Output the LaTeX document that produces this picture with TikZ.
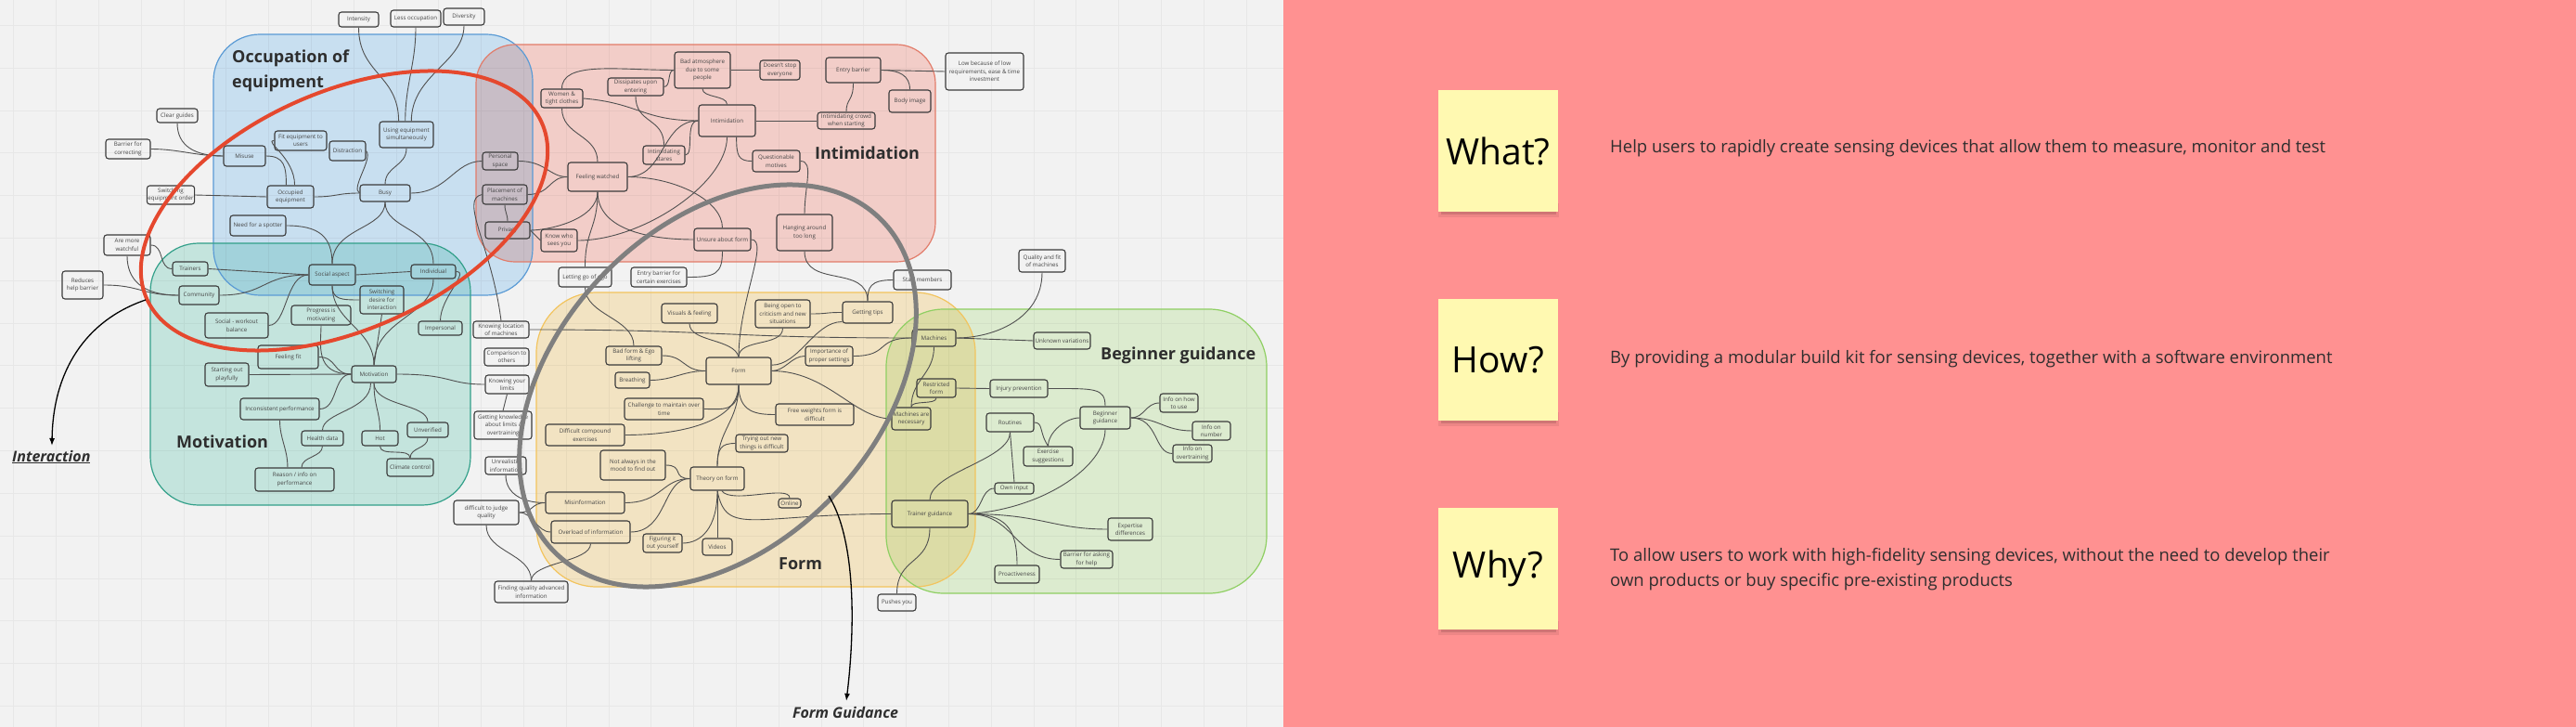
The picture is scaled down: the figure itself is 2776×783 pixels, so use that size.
\documentclass[tikz,border=0pt]{standalone}
\usepackage{fontspec}
\setmainfont{Open Sans}
\usetikzlibrary{arrows.meta}
\definecolor{bgc}{HTML}{F2F2F2}
\definecolor{gridc}{HTML}{E7E7E7}
\definecolor{pinkc}{HTML}{FF9191}
\definecolor{blueF}{RGB}{211,235,253}
\definecolor{redF}{RGB}{255,217,211}
\definecolor{tealF}{RGB}{207,241,233}
\definecolor{yelF}{RGB}{255,240,205}
\definecolor{grnF}{RGB}{232,248,219}
\definecolor{blueB}{HTML}{5B9BD5}
\definecolor{redB}{HTML}{E27C6A}
\definecolor{tealB}{HTML}{33A08A}
\definecolor{yelB}{HTML}{F2C45E}
\definecolor{grnB}{HTML}{8FCF63}
\definecolor{nodeB}{HTML}{3B3B3B}
\definecolor{nodeT}{HTML}{454545}
\definecolor{connC}{HTML}{505050}
\definecolor{redE}{HTML}{E5482E}
\definecolor{greyE}{HTML}{7F7F7F}
\definecolor{stickyc}{HTML}{FFF9B1}
\definecolor{txtc}{HTML}{2E2E2E}
\tikzset{
  nbox/.style={draw=nodeB, line width=1.1pt, rounded corners=3pt, inner sep=1pt, align=center, text=nodeT, font=\fontsize{6.2}{8.4}\selectfont},
  conn/.style={draw=connC, line width=0.9pt},
  ttl/.style={inner sep=0pt, font=\fontsize{18}{22}\selectfont\bfseries, text=txtc},
  region/.style={line width=1.2pt},
  arr/.style={draw=black, line width=1.3pt, -{Latex[length=8pt,width=6pt]}},
  sticky/.style={fill=stickyc, minimum width=129pt, minimum height=131pt, inner sep=0pt, font=\fontsize{39}{44}\selectfont, text=black},
  desc/.style={inner sep=0pt, font=\fontsize{18.5}{27}\selectfont, text=txtc, align=left},
  redell/.style={draw=redE, line width=4pt},
  greyell/.style={draw=greyE, line width=5pt},
}
\newcommand\mnd[6]{\node[nbox,minimum width=#4pt,minimum height=#5pt] (#1) at (#2,#3) {#6};}
\newcommand\mce[4]{\draw[conn] (#1) .. controls +(#3) and +(#4) .. (#2);}
\begin{document}
\begin{tikzpicture}[x=1pt,y=-1pt]
\useasboundingbox (0,0) rectangle (2776,783);
\fill[bgc] (0,0) rectangle (1383,783);
\fill[pinkc] (1383,0) rectangle (2776,783);
\foreach \i in {0,...,29} \draw[gridc,line width=0.6pt] ({14.6+45.8*\i},0) -- ({14.6+45.8*\i},783);
\foreach \j in {0,...,16} \draw[gridc,line width=0.6pt] (0,{27.4+45.8*\j}) -- (1383,{27.4+45.8*\j});

% regions
\begin{scope}[blend mode=multiply]
\fill[blueF, rounded corners=50pt] (230,37) rectangle (574,318);
\fill[redF, rounded corners=42pt] (513,48) rectangle (1008,282);
\fill[tealF, rounded corners=52pt] (162,262) rectangle (507,544);
\fill[yelF, rounded corners=65pt] (578,315) rectangle (1051,632);
\fill[grnF, rounded corners=62pt] (955,333) rectangle (1365,639);
\end{scope}
\draw[blueB, region, rounded corners=50pt] (230,37) rectangle (574,318);
\draw[redB, region, rounded corners=42pt] (513,48) rectangle (1008,282);
\draw[tealB, region, rounded corners=52pt] (162,262) rectangle (507,544);
\draw[yelB, region, rounded corners=65pt] (578,315) rectangle (1051,632);
\draw[grnB, region, rounded corners=62pt] (955,333) rectangle (1365,639);

% titles
\node[ttl,anchor=base west] (t1a) at (250,68) {Occupation of};
\node[ttl,anchor=base west] (t1b) at (250,95) {equipment};
\node[ttl,anchor=base west] (t2) at (878,172) {Intimidation};
\node[ttl,anchor=base west] (t3) at (190,482) {Motivation};
\node[ttl,anchor=base west] (t4) at (839,613) {Form};
\node[ttl,anchor=base west] (t5) at (1186,388) {Beginner guidance};

% nodes: occupation
\mnd{intensity}{386.5}{21}{43}{16}{Intensity}
\mnd{lessocc}{448}{20}{54}{18}{Less occupation}
\mnd{diversity}{500}{18}{44}{18}{Diversity}
\mnd{clearguides}{191}{124.5}{44}{15}{Clear guides}
\mnd{barrier}{138}{160.5}{48}{21}{Barrier for\\correcting}
\mnd{misuse}{263.5}{168}{45}{22}{Misuse}
\mnd{fitequip}{324}{151.5}{56}{21}{Fit equipment to\\users}
\mnd{distraction}{374.5}{162.5}{39}{21}{Distraction}
\mnd{occupied}{313}{212}{50}{24}{Occupied\\equipment}
\mnd{switching}{184}{210}{44}{20}{Switching\\equipment order}
\mnd{usingequip}{438}{145}{58}{28}{Using equipment\\simultaneously}
\mnd{busy}{415}{208}{54}{18}{Busy}
\mnd{personal}{539}{173.5}{38}{19}{Personal\\space}
\mnd{placement}{544}{209.5}{48}{21}{Placement of\\machines}
\mnd{privacy}{547}{248}{48}{18}{Privacy}
\mnd{needspotter}{278}{243}{60}{22}{Need for a spotter}
% motivation
\mnd{socialaspect}{358}{296}{50}{22}{Social aspect}
\mnd{individual}{467}{292.5}{48}{15}{Individual}
\mnd{switchdesire}{411.5}{323}{47}{30}{Switching\\desire for\\interaction}
\mnd{impersonal}{474.5}{353.5}{47}{15}{Impersonal}
\mnd{watchful}{137}{264}{50}{22}{Are more\\watchful}
\mnd{reduces}{89}{307}{44}{30}{Reduces\\help barrier}
\mnd{trainers}{205}{289.5}{38}{15}{Trainers}
\mnd{community}{214.5}{318}{43}{20}{Community}
\mnd{socialbal}{255}{350.5}{68}{27}{Social - workout\\balance}
\mnd{progress}{346}{339.5}{64}{21}{Progress is\\motivating}
\mnd{feelingfit}{310.5}{384.5}{65}{25}{Feeling fit}
\mnd{starting}{244.5}{403.5}{47}{25}{Starting out\\playfully}
\mnd{motivation}{403}{403}{48}{18}{Motivation}
\mnd{inconsistent}{301.5}{440.5}{85}{23}{Inconsistent performance}
\mnd{healthdata}{347.5}{472}{45}{16}{Health data}
\mnd{hot}{409.5}{472}{39}{16}{Hot}
\mnd{unverified}{461}{463}{44}{16}{Unverified}
\mnd{climate}{442}{503.5}{50}{19}{Climate control}
\mnd{reason}{317.5}{516.5}{85}{25}{Reason / info on\\performance}
\mnd{knowloc}{540}{355}{60}{18}{Knowing location\\of machines}
\mnd{comparison}{546}{384.5}{48}{19}{Comparison to\\others}
\mnd{knowlimits}{546.5}{414}{47}{20}{Knowing your\\limits}
\mnd{gettingknow}{542}{458}{62}{30}{Getting knowledge\\about limits /\\overtraining}
\mnd{unrealistic}{545}{501.5}{44}{19}{Unrealistic\\information}
\mnd{difficultjudge}{524}{552}{70}{26}{difficult to judge\\quality}
\mnd{finding}{572.5}{637.5}{79}{23}{Finding quality advanced\\information}
% intimidation
\mnd{women}{605.5}{106}{45}{20}{Women \&\\tight clothes}
\mnd{dissipates}{685}{93.5}{60}{19}{Dissipates upon\\entering}
\mnd{feelingwatched}{644}{190.5}{64}{31}{Feeling watched}
\mnd{intimstares}{715.5}{167}{45}{20}{Intimidating\\stares}
\mnd{badatmos}{757}{75.5}{60}{39}{Bad atmosphere\\due to some\\people}
\mnd{doesntstop}{840.5}{75.5}{43}{21}{Doesn't stop\\everyone}
\mnd{entrybarrier}{919.5}{75.5}{59}{27}{Entry barrier}
\mnd{lowbecause}{1061}{77}{84}{40}{Low because of low\\requirements, ease \& time\\investment}
\mnd{bodyimage}{980.5}{109}{45}{24}{Body image}
\mnd{intimidation}{783.5}{130}{61}{34}{Intimidation}
\mnd{intimcrowd}{912}{130}{62}{18}{Intimidating crowd\\when starting}
\mnd{questionable}{836.5}{173.5}{51}{23}{Questionable\\motives}
\mnd{hanging}{867}{250.5}{60}{39}{Hanging around\\too long}
\mnd{unsure}{778.5}{258}{61}{24}{Unsure about form}
\mnd{knowwho}{602.5}{259}{39}{24}{Know who\\sees you}
\mnd{lettinggo}{630.5}{298.5}{57}{21}{Letting go of ego}
\mnd{entryexer}{710}{298.5}{60}{21}{Entry barrier for\\certain exercises}
\mnd{staff}{994}{301.5}{62}{21}{Staff members}
% form
\mnd{visuals}{743}{337.5}{60}{21}{Visuals \& feeling}
\mnd{beingopen}{843.5}{338}{59}{30}{Being open to\\criticism and new\\situations}
\mnd{gettingtips}{935}{336.5}{54}{23}{Getting tips}
\mnd{machines}{1006.5}{364}{47}{18}{Machines}
\mnd{importance}{893.5}{383.5}{51}{21}{Importance of\\proper settings}
\mnd{form}{796}{399.5}{70}{29}{Form}
\mnd{badform}{683}{383}{60}{20}{Bad form \& Ego\\lifting}
\mnd{breathing}{681.5}{409.5}{37}{17}{Breathing}
\mnd{challenge}{715.5}{440.5}{85}{23}{Challenge to maintain over\\time}
\mnd{difficultcomp}{630.5}{468.5}{85}{23}{Difficult compound\\exercises}
\mnd{restricted}{1009}{418}{42}{20}{Restricted\\form}
\mnd{freeweights}{878}{446.5}{84}{23}{Free weights form is\\difficult}
\mnd{machinesnec}{982}{451}{42}{24}{Machines are\\necessary}
\mnd{notalways}{682}{501}{70}{32}{Not always in the\\mood to find out}
\mnd{trying}{821}{477.5}{56}{19}{Trying out new\\things is difficult}
\mnd{theory}{773}{515.5}{58}{25}{Theory on form}
\mnd{online}{851}{542}{24}{10}{Online}
\mnd{misinfo}{630.5}{541.5}{85}{23}{Misinformation}
\mnd{overload}{636.5}{573}{85}{24}{Overload of information}
\mnd{figuring}{714}{585}{42}{20}{Figuring it\\out yourself}
\mnd{videos}{773}{589}{32}{18}{Videos}
\mnd{trainerg}{1002}{553.5}{82}{29}{Trainer guidance}
\mnd{pushes}{966.5}{649}{41}{18}{Pushes you}
% beginner
\mnd{quality}{1123}{281}{50}{24}{Quality and fit\\of machines}
\mnd{unknown}{1144.5}{367}{61}{18}{Unknown variations}
\mnd{injury}{1098}{418.5}{62}{19}{Injury prevention}
\mnd{beginnerg}{1191}{450}{54}{24}{Beginner\\guidance}
\mnd{infohow}{1270.5}{434}{41}{20}{Info on how\\to use}
\mnd{routines}{1088.5}{455}{51}{20}{Routines}
\mnd{infonum}{1305.5}{464}{41}{20}{Info on\\number}
\mnd{exercise}{1129.5}{491.5}{53}{21}{Exercise\\suggestions}
\mnd{owninput}{1093}{526}{42}{12}{Own input}
\mnd{infoover}{1285}{488.5}{42}{19}{Info on\\overtraining}
\mnd{expertise}{1218}{570}{48}{24}{Expertise\\differences}
\mnd{barrierask}{1171}{602.5}{56}{19}{Barrier for asking\\for help}
\mnd{proactive}{1096}{618.5}{48}{19}{Proactiveness}

% connectors: occupation
\mce{intensity.south}{usingequip.120}{0,50}{0,-50}
\mce{lessocc.south}{usingequip.95}{0,40}{0,-40}
\mce{diversity.south}{usingequip.70}{0,40}{0,-50}
\mce{usingequip.south}{busy.north}{0,20}{0,-20}
\mce{clearguides.south}{misuse.west}{0,25}{-30,0}
\mce{barrier.east}{misuse.west}{30,0}{-30,0}
\mce{misuse.east}{occupied.110}{20,0}{0,-20}
\mce{fitequip.west}{occupied.70}{-12,0}{0,-30}
\draw[conn] (occupied.west) -- (switching.east);
\mce{occupied.east}{busy.west}{25,0}{-25,0}
\mce{distraction.east}{busy.west}{8,8}{-10,-5}
\mce{busy.east}{personal.west}{40,0}{-30,0}
\mce{busy.south}{individual.north}{0,30}{0,-40}
\mce{busy.south}{socialaspect.north}{0,30}{0,-40}
\mce{needspotter.east}{socialaspect.north}{35,0}{0,-30}
\mce{placement.west}{knowloc.north}{-25,5}{-10,-80}
\mce{placement.south}{privacy.north}{0,8}{0,-8}
\mce{personal.east}{feelingwatched.west}{30,0}{-20,0}
\mce{placement.east}{feelingwatched.west}{25,0}{-20,0}
\mce{privacy.east}{feelingwatched.south}{20,0}{0,30}
\draw[conn] (knowwho.west) -- (privacy.east);
\mce{women.south}{feelingwatched.north}{0,30}{0,-30}
\mce{women.north}{badatmos.west}{0,-30}{-60,0}
\mce{women.east}{intimidation.west}{60,5}{-60,0}
\mce{dissipates.east}{badatmos.west}{8,0}{-8,0}
\mce{dissipates.south}{intimstares.north}{0,30}{0,-30}
\mce{feelingwatched.east}{intimidation.west}{40,0}{-40,0}
\mce{intimstares.east}{intimidation.west}{10,0}{-15,0}
\mce{feelingwatched.south}{lettinggo.north}{0,40}{0,-40}
\mce{feelingwatched.east}{unsure.north}{50,0}{0,-30}
\mce{feelingwatched.south}{unsure.west}{0,40}{-50,0}
\mce{intimidation.south}{knowwho.east}{0,50}{70,0}
% intimidation
\draw[conn] (badatmos.east) -- (doesntstop.west);
\mce{badatmos.south}{intimidation.north}{0,10}{0,-10}
\draw[conn] (intimidation.east) -- (intimcrowd.west);
\mce{entrybarrier.south}{intimcrowd.north}{0,20}{0,-15}
\draw[conn] (entrybarrier.east) -- (lowbecause.west);
\mce{entrybarrier.east}{bodyimage.north}{20,0}{0,-15}
\mce{intimidation.300}{questionable.west}{0,20}{-15,0}
\mce{questionable.east}{hanging.north}{15,0}{0,-30}
% form
\mce{unsure.east}{form.north}{20,0}{0,-60}
\mce{unsure.south}{entryexer.east}{0,25}{30,0}
\mce{hanging.south}{gettingtips.north}{0,40}{0,-40}
\mce{staff.west}{gettingtips.north}{-25,0}{0,-15}
\mce{beingopen.east}{gettingtips.west}{20,0}{-20,0}
\mce{beingopen.south}{form.north}{0,20}{0,-20}
\mce{visuals.south}{form.north}{0,20}{-5,-20}
\mce{knowloc.east}{machines.west}{200,0}{-200,0}
\mce{gettingtips.200}{form.10}{-30,0}{30,0}
\mce{importance.west}{form.east}{-15,0}{15,0}
\mce{importance.east}{machines.west}{40,0}{-40,0}
\mce{form.east}{machinesnec.west}{60,0}{-40,0}
\mce{machines.south}{machinesnec.north}{0,30}{0,-30}
\mce{restricted.south}{machinesnec.north}{0,8}{0,-8}
\draw[conn] (restricted.east) -- (injury.west);
\mce{form.south}{freeweights.west}{0,30}{-20,0}
\mce{form.south}{theory.north}{0,40}{0,-40}
\mce{badform.east}{form.west}{25,0}{-25,0}
\mce{breathing.east}{form.west}{25,0}{-25,0}
\mce{challenge.east}{form.south}{20,0}{0,30}
\mce{difficultcomp.east}{form.south}{60,0}{0,40}
\mce{lettinggo.south}{badform.north}{0,30}{0,-30}
\mce{theory.north}{trying.west}{0,-20}{-15,0}
\mce{theory.290}{online.north}{10,15}{0,-15}
\draw[conn] (theory.south) -- (videos.north);
\mce{theory.south}{trainerg.west}{10,50}{-150,0}
\mce{theory.south}{figuring.east}{0,40}{20,0}
\mce{notalways.east}{theory.west}{20,0}{-20,0}
\mce{misinfo.east}{theory.west}{40,0}{-30,0}
\mce{overload.east}{theory.west}{40,0}{-30,0}
\mce{unrealistic.south}{misinfo.west}{0,20}{-25,0}
\mce{difficultjudge.east}{misinfo.west}{15,0}{-15,0}
\mce{difficultjudge.east}{overload.west}{15,0}{-15,0}
\mce{difficultjudge.south}{finding.north}{0,30}{0,-30}
\mce{overload.south}{finding.north}{0,20}{0,-20}
\mce{trainerg.south}{pushes.north}{0,40}{0,-40}
% beginner
\mce{trainerg.north}{routines.south}{0,-30}{0,30}
\mce{trainerg.east}{owninput.west}{15,0}{-15,0}
\mce{trainerg.east}{beginnerg.south}{80,-5}{0,40}
\mce{trainerg.east}{expertise.west}{80,0}{-60,0}
\mce{trainerg.east}{barrierask.west}{50,0}{-50,0}
\mce{trainerg.east}{proactive.north}{40,0}{0,-40}
\draw[conn] (routines.south) -- (owninput.north);
\mce{routines.east}{exercise.north}{10,0}{-10,-15}
\mce{beginnerg.west}{exercise.north}{-15,0}{0,-15}
\mce{beginnerg.east}{infohow.west}{15,0}{-15,0}
\mce{beginnerg.east}{infonum.west}{30,0}{-30,0}
\mce{beginnerg.east}{infoover.west}{30,0}{-20,0}
\mce{injury.east}{beginnerg.north}{50,0}{0,-20}
\mce{quality.south}{machines.east}{0,50}{40,0}
\draw[conn] (machines.east) -- (unknown.west);
% motivation
\mce{watchful.east}{trainers.west}{15,0}{-15,0}
\mce{watchful.south}{community.west}{0,25}{-40,0}
\mce{reduces.east}{community.west}{40,0}{-40,0}
\draw[conn] (trainers.east) -- (socialaspect.west);
\mce{community.east}{socialaspect.west}{50,0}{-50,0}
\mce{socialbal.east}{socialaspect.west}{20,0}{-25,0}
\draw[conn] (socialaspect.east) -- (individual.west);
\mce{socialaspect.south}{switchdesire.west}{0,15}{-20,0}
\mce{socialaspect.south}{motivation.north}{0,40}{0,-40}
\mce{individual.east}{impersonal.north}{15,0}{0,-25}
\mce{individual.south}{motivation.north}{0,40}{0,-50}
\draw[conn] (switchdesire.south) -- (motivation.north);
\mce{progress.south}{motivation.west}{0,20}{-40,0}
\mce{feelingfit.east}{motivation.west}{20,0}{-20,0}
\draw[conn] (starting.east) -- (motivation.west);
\mce{inconsistent.east}{motivation.west}{20,0}{-20,0}
\mce{inconsistent.south}{reason.120}{0,20}{0,-20}
\mce{healthdata.south}{reason.60}{0,12}{0,-12}
\mce{motivation.250}{healthdata.north}{0,30}{0,-20}
\mce{motivation.east}{knowlimits.west}{60,0}{-40,0}
\mce{motivation.south}{unverified.north}{0,25}{0,-20}
\mce{motivation.south}{hot.north}{0,25}{0,-20}
\draw[conn] (knowlimits.south) -- (gettingknow.north);
\mce{hot.south}{climate.north}{0,12}{0,-12}
\mce{unverified.south}{climate.north}{0,12}{0,-12}

% ellipses
\draw[redell, rotate around={24:(371,227)}] (371,227) ellipse [x radius=233, y radius=128];
\draw[greyell, rotate around={46:(773.5,415.5)}] (773.5,415.5) ellipse [x radius=251, y radius=172];

% arrows and labels
\coordinate (ia) at (157,323);
\coordinate (ib) at (56,480);
\draw[arr] (ia) .. controls (92,345) and (57,400) .. (ib);
\node[anchor=base west, inner sep=0pt, font=\fontsize{16}{19}\selectfont\bfseries\itshape, text=txtc] (interlbl) at (13,497) {\underline{Interaction}};
\coordinate (fa) at (893,534);
\coordinate (fb) at (912,755);
\draw[arr] (fa) .. controls (925,585) and (920,690) .. (fb);
\node[anchor=base, inner sep=0pt, font=\fontsize{16}{19}\selectfont\bfseries\itshape, text=txtc] (formlbl) at (911,773) {Form Guidance};

% right panel
\foreach \yy in {97,322,547} {
  \fill[black,opacity=0.07] (1550,\yy+122) rectangle (1680,\yy+137);
  \fill[black,opacity=0.12] (1553,\yy+126) rectangle (1677,\yy+134);
}
\node[sticky] (s1) at (1614.5,162.5) {What?};
\node[sticky] (s2) at (1614.5,387.5) {How?};
\node[sticky] (s3) at (1614.5,612.5) {Why?};
\node[desc, anchor=west] (d1) at (1735,160) {Help users to rapidly create sensing devices that allow them to measure, monitor and test};
\node[desc, anchor=west] (d2) at (1735,387) {By providing a modular build kit for sensing devices, together with a software environment};
\node[desc, anchor=west] (d3) at (1735,613) {To allow users to work with high-fidelity sensing devices, without the need to develop their\\own products or buy specific pre-existing products};
\end{tikzpicture}
\end{document}
